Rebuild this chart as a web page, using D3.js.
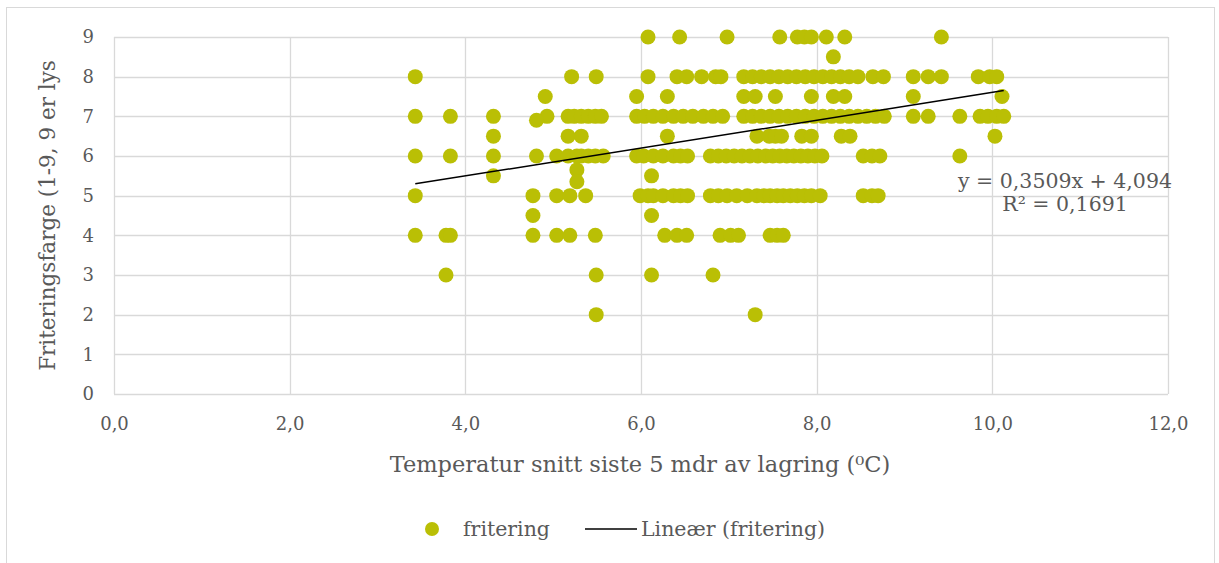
<!DOCTYPE html>
<html>
<head>
<meta charset="utf-8">
<script src="https://cdn.jsdelivr.net/npm/d3@7"></script>
<style>
  html, body { margin: 0; padding: 0; background: #ffffff; }
  svg { display: block; font-family: "DejaVu Serif", Georgia, serif; }
</style>
</head>
<body>
<svg id="chart" width="1219" height="563"></svg>
<script>
// Frying colour (1-9) against mean storage temperature over the last 5 months.
// Each array lists the temperatures (°C) of samples scored at one colour level.
const farge9   = [6.08, 6.44, 6.98, 7.58, 7.78, 7.86, 7.94, 8.11, 8.32, 9.42];
const farge8_5 = [8.19];
const farge8   = [3.43, 5.21, 5.49, 6.08, 6.41, 6.52, 6.69, 6.85, 6.91, 7.17, 7.27, 7.37, 7.47, 7.57,
                  7.67, 7.77, 7.87, 7.97, 8.07, 8.17, 8.27, 8.37, 8.47, 8.64, 8.76, 9.10, 9.27, 9.42,
                  9.84, 9.97, 10.05];
const farge7_5 = [4.91, 5.95, 6.30, 7.17, 7.30, 7.53, 7.94, 8.19, 8.32, 9.10, 10.11];
const farge7   = [3.43, 3.83, 4.32, 4.93, 5.17, 5.24, 5.32, 5.40, 5.48, 5.55, 5.95, 6.04, 6.14, 6.25,
                  6.37, 6.48, 6.59, 6.71, 6.82, 6.93, 7.17, 7.27, 7.37, 7.47, 7.57, 7.67, 7.77, 7.87,
                  7.97, 8.07, 8.17, 8.27, 8.37, 8.47, 8.57, 8.67, 8.77, 9.10, 9.27, 9.63, 9.86, 9.95,
                  10.05, 10.13];
const farge6_5 = [4.32, 5.17, 5.32, 6.30, 7.32, 7.46, 7.53, 7.60, 7.83, 7.94, 8.28, 8.38, 10.03];
const farge6   = [3.43, 3.83, 4.32, 4.81, 5.04, 5.17, 5.27, 5.32, 5.40, 5.48, 5.57, 5.95, 6.03, 6.14,
                  6.25, 6.37, 6.45, 6.53, 6.79, 6.88, 6.97, 7.06, 7.15, 7.24, 7.33, 7.42, 7.50, 7.58,
                  7.66, 7.74, 7.82, 7.90, 7.98, 8.06, 8.53, 8.63, 8.72, 9.63];
const farge5_5 = [4.32, 6.12];
const farge5   = [3.43, 4.77, 5.04, 5.19, 5.37, 5.99, 6.08, 6.14, 6.25, 6.37, 6.45, 6.53, 6.79, 6.88,
                  6.98, 7.09, 7.21, 7.32, 7.40, 7.47, 7.55, 7.62, 7.70, 7.78, 7.86, 7.94, 8.04, 8.53,
                  8.63, 8.70];
const farge4_5 = [4.77, 6.12];
const farge4   = [3.43, 3.78, 3.83, 4.77, 5.04, 5.19, 5.48, 6.27, 6.41, 6.52, 6.90, 7.02, 7.11, 7.47,
                  7.55, 7.62];
const farge3   = [3.78, 5.49, 6.12, 6.82];
const farge2   = [5.49, 7.30];
// Samples whose colour score lies between the half steps: [temperature, colour]
const fargeOvrige = [[4.81, 6.9], [5.27, 5.65], [5.27, 5.35]];

const fargeNivaer = [9, 8.5, 8, 7.5, 7, 6.5, 6, 5.5, 5, 4.5, 4, 3, 2];
const fargeGrupper = [farge9, farge8_5, farge8, farge7_5, farge7, farge6_5, farge6, farge5_5,
                      farge5, farge4_5, farge4, farge3, farge2];

// Linear trend line as reported on the chart
const trendStigning = 0.3509;
const trendKonstant = 4.094;
const trendR2 = 0.1691;

const xTicks = [0, 2, 4, 6, 8, 10, 12];
const yTicks = [0, 1, 2, 3, 4, 5, 6, 7, 8, 9];

const serieNavn = "fritering";
const trendNavn = "Lineær (fritering)";
const xTittel = "Temperatur snitt siste 5 mdr av lagring (⁰C)";
const yTittel = "Friteringsfarge (1-9, 9 er lys";

const punktFarge = "#BABF05";
const tekstFarge = "#595959";
const gridFarge = "#D9D9D9";

const punkter = [];
fargeGrupper.forEach((temps, i) => temps.forEach(t => punkter.push([t, fargeNivaer[i]])));
fargeOvrige.forEach(p => punkter.push(p));

const svg = d3.select("#chart");
const fmt = d => d.toFixed(1).replace(".", ",");

// chart frame
svg.append("rect")
  .attr("x", 6.5).attr("y", 7.5).attr("width", 1208).attr("height", 570)
  .attr("fill", "#ffffff").attr("stroke", gridFarge).attr("stroke-width", 1);

const x = d3.scaleLinear().domain([0, 12]).range([114, 1168]);
const y = d3.scaleLinear().domain([0, 9]).range([394, 37]);

// gridlines
svg.append("g")
  .selectAll("line.h").data(yTicks).join("line")
  .attr("x1", x(0)).attr("x2", x(12))
  .attr("y1", d => Math.round(y(d)) + 0.5).attr("y2", d => Math.round(y(d)) + 0.5)
  .attr("stroke", gridFarge).attr("stroke-width", 1.3);
svg.append("g")
  .selectAll("line.v").data(xTicks).join("line")
  .attr("x1", d => Math.round(x(d)) + 0.5).attr("x2", d => Math.round(x(d)) + 0.5)
  .attr("y1", y(9)).attr("y2", y(0))
  .attr("stroke", gridFarge).attr("stroke-width", 1.3);

// axes (labels only, the gridlines carry the structure)
const xAxis = svg.append("g")
  .attr("transform", `translate(0,${y(0)})`)
  .call(d3.axisBottom(x).tickValues(xTicks).tickFormat(fmt).tickSize(0).tickPadding(23));
const yAxis = svg.append("g")
  .attr("transform", `translate(${x(0)},0)`)
  .call(d3.axisLeft(y).tickValues(yTicks).tickFormat(d3.format("d")).tickSize(0).tickPadding(20));
[xAxis, yAxis].forEach(a => {
  a.select(".domain").remove();
  a.selectAll("text")
    .attr("fill", tekstFarge)
    .style("font-family", "'DejaVu Serif', serif")
    .style("font-size", "18px");
});

// scatter points
svg.append("g")
  .selectAll("circle").data(punkter).join("circle")
  .attr("cx", d => x(d[0])).attr("cy", d => y(d[1]))
  .attr("r", 7.5)
  .attr("fill", punktFarge);

// trend line over the range of the data
const [xMin, xMax] = d3.extent(punkter, d => d[0]);
svg.append("line")
  .attr("x1", x(xMin)).attr("y1", y(trendStigning * xMin + trendKonstant))
  .attr("x2", x(xMax)).attr("y2", y(trendStigning * xMax + trendKonstant))
  .attr("stroke", "#000000").attr("stroke-width", 1.5);

// trend equation
const desKomma = v => String(v).replace(".", ",");
const eq = svg.append("text")
  .attr("text-anchor", "middle")
  .attr("fill", tekstFarge).style("font-size", "20.5px");
eq.append("tspan").attr("x", 1065).attr("y", 188)
  .text(`y = ${desKomma(trendStigning)}x + ${desKomma(trendKonstant)}`);
eq.append("tspan").attr("x", 1065).attr("y", 211)
  .text(`R² = ${desKomma(trendR2)}`);

// axis titles
svg.append("text")
  .attr("x", 640).attr("y", 472)
  .attr("text-anchor", "middle")
  .attr("fill", tekstFarge).style("font-size", "22.5px")
  .text(xTittel);
svg.append("text")
  .attr("transform", `translate(55,${(y(0) + y(9)) / 2}) rotate(-90)`)
  .attr("text-anchor", "middle")
  .attr("fill", tekstFarge).style("font-size", "21.5px")
  .text(yTittel);

// legend
const leg = svg.append("g").attr("transform", "translate(0,529)");
leg.append("circle").attr("cx", 432).attr("cy", 0).attr("r", 7).attr("fill", punktFarge);
leg.append("text").attr("x", 463).attr("y", 7)
  .attr("fill", tekstFarge).style("font-size", "20.5px").text(serieNavn);
leg.append("line").attr("x1", 585).attr("x2", 637).attr("y1", 0).attr("y2", 0)
  .attr("stroke", "#000000").attr("stroke-width", 1.5);
leg.append("text").attr("x", 641).attr("y", 7)
  .attr("fill", tekstFarge).style("font-size", "20.5px").text(trendNavn);
</script>
</body>
</html>
